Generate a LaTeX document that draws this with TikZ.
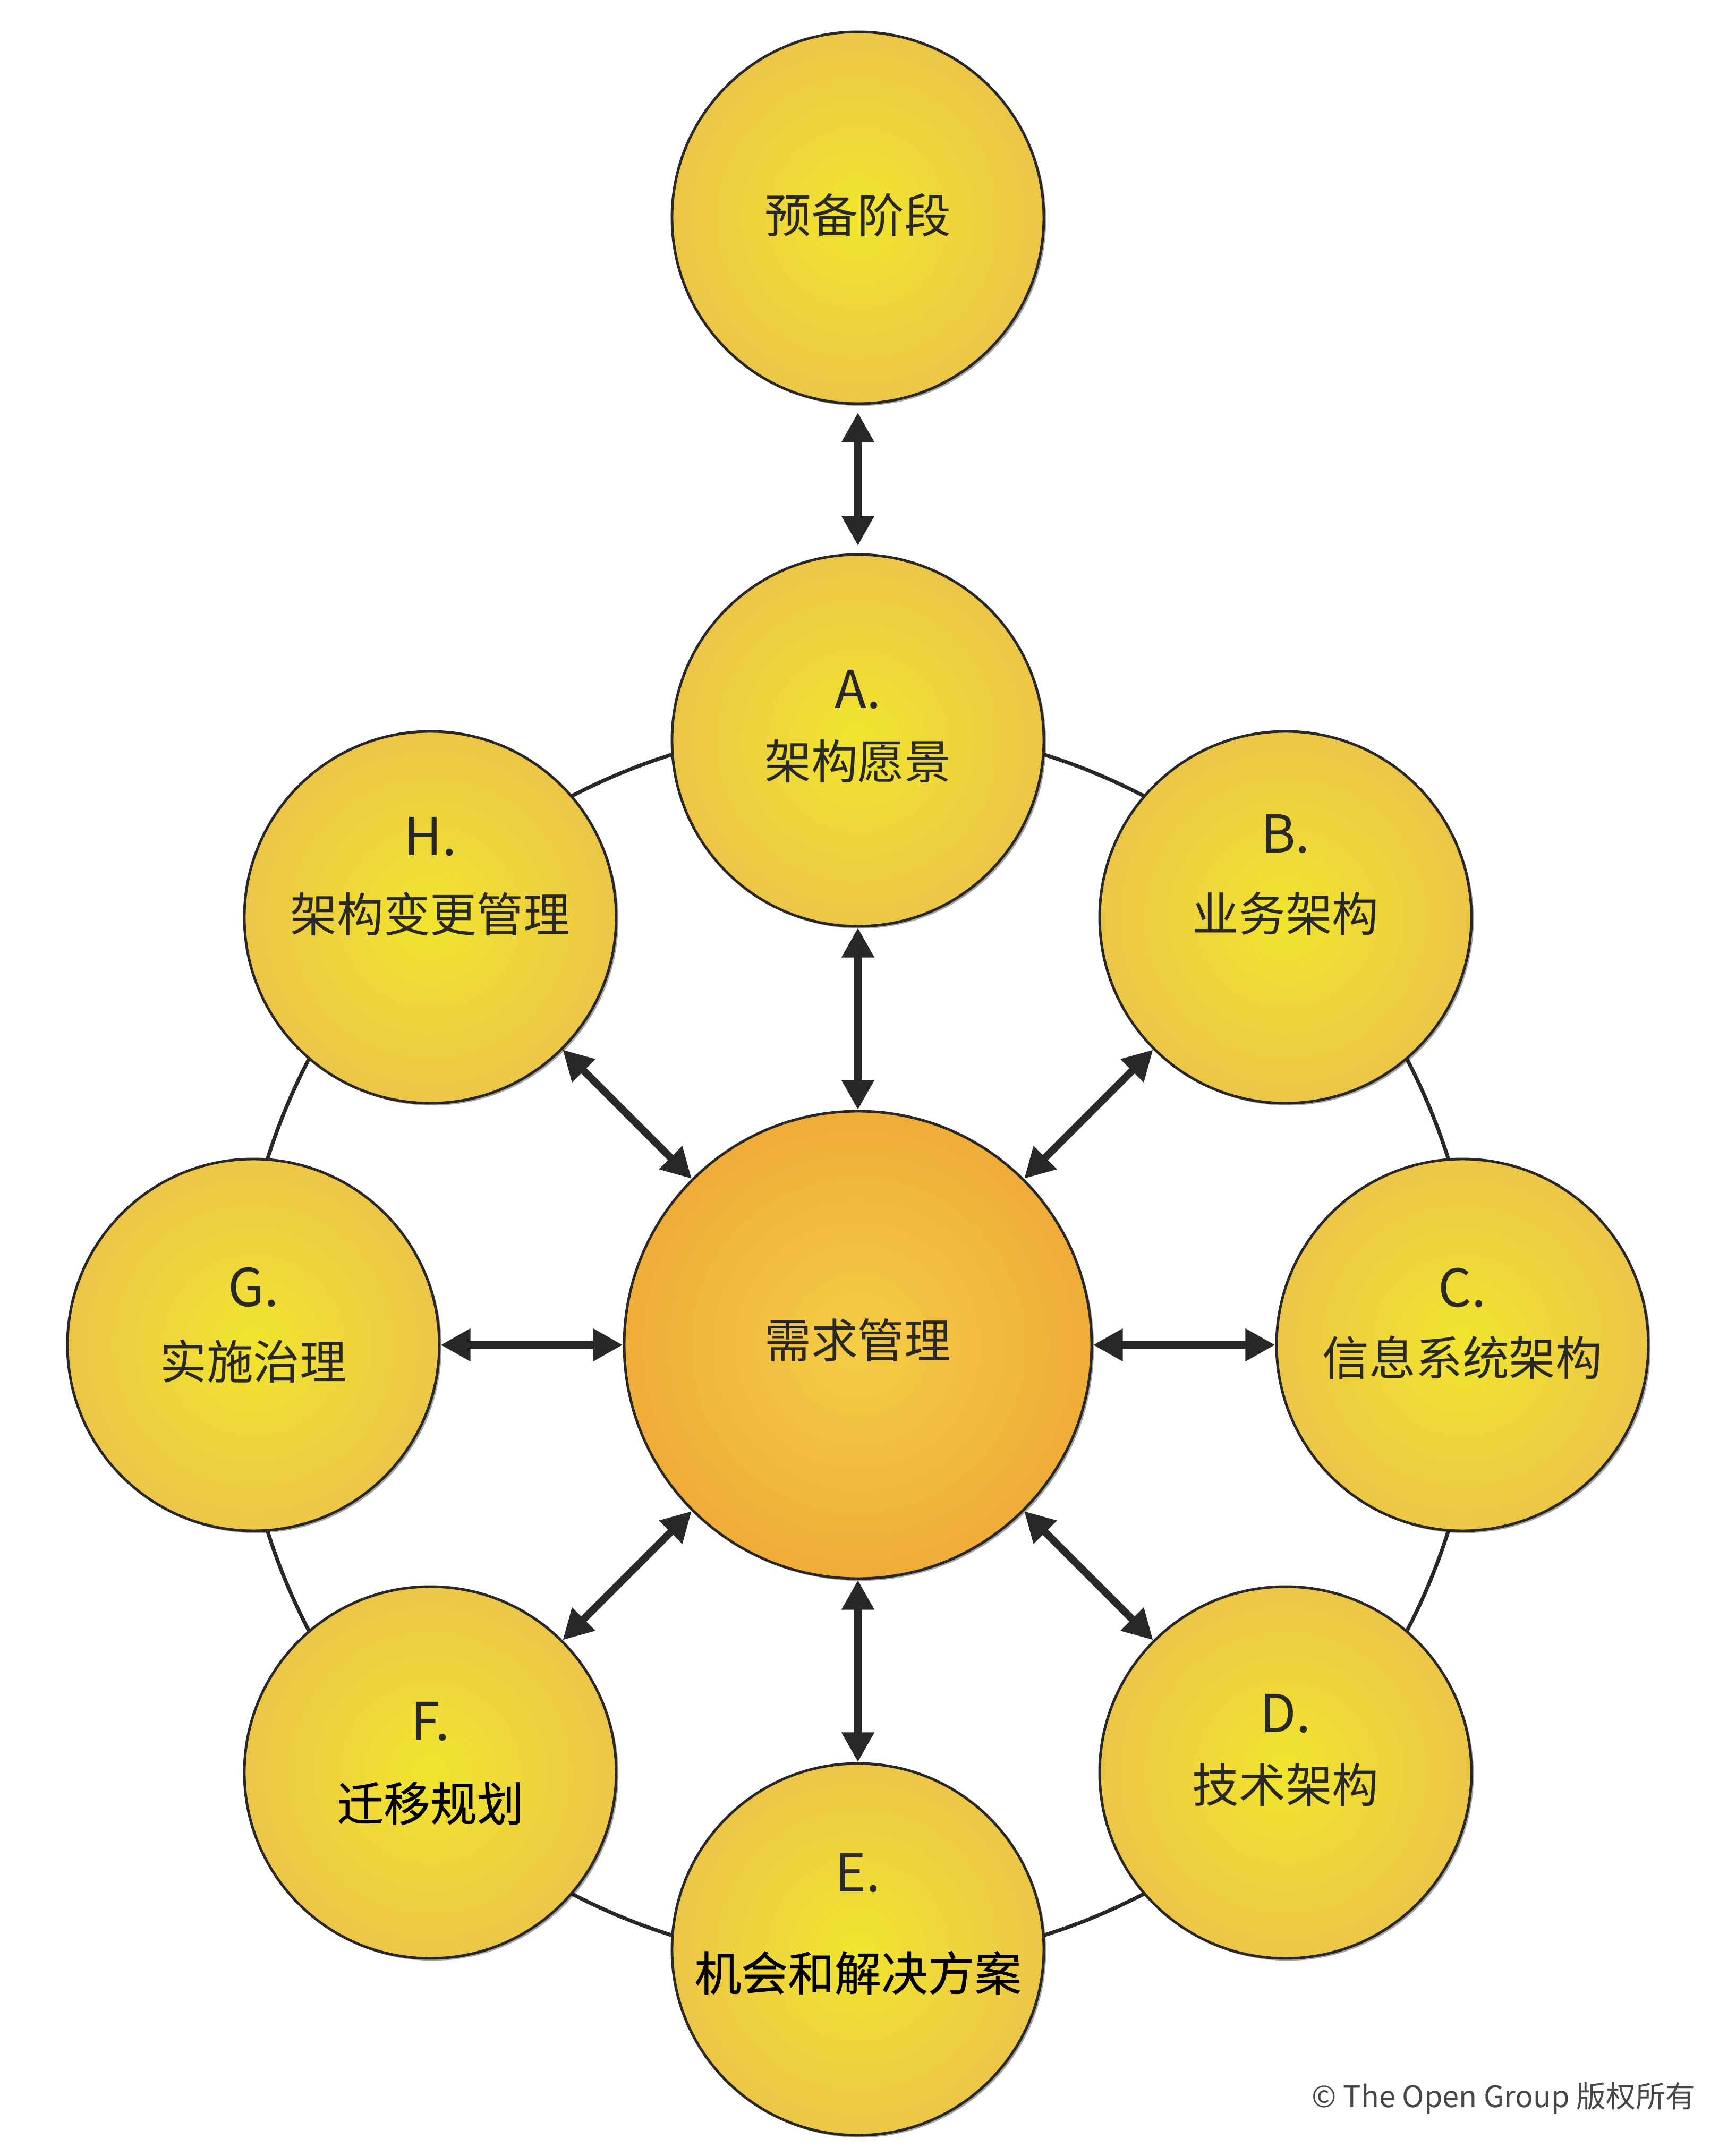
\documentclass[tikz,border=0pt]{standalone}
\usepackage{fontspec}
\setmainfont{Noto Sans CJK SC}
\newfontfamily\darkcjk[FakeBold=0.7]{Noto Sans CJK SC}
\usepackage{tikz}
\usetikzlibrary{arrows.meta}
\usetikzlibrary{shadows}

\definecolor{phasein}{RGB}{241,229,46}
\definecolor{phaseout}{RGB}{236,197,72}
\definecolor{corein}{RGB}{244,205,70}
\definecolor{coreout}{RGB}{239,172,57}
\definecolor{inkgray}{RGB}{40,40,38}

\newcommand{\phaseletter}{\fontsize{28}{35}\selectfont}

\begin{document}
\begin{tikzpicture}[
	phase/.style={circle,draw=inkgray,line width=1.4pt,minimum size=7cm,inner sep=0pt,
		shading=radial,inner color=phasein,outer color=phaseout,
		drop shadow={shadow xshift=1.2pt,shadow yshift=-1.2pt,opacity=0.35,fill=black}},
	core/.style={phase,minimum size=8.8cm,inner color=corein,outer color=coreout},
	phasetext/.style={align=center,inner sep=0pt,text=inkgray,font=\fontsize{25}{35}\selectfont},
	link/.style={{Triangle[length=16pt,width=16.5pt]}-{Triangle[length=16pt,width=16.5pt]},
		line width=4pt,draw=inkgray},
	ringline/.style={draw=inkgray,line width=2pt}
]
	\useasboundingbox[fill=white] (-16.15,25.32) rectangle (16.20,-15.27);

	% ring behind the phases
	\coordinate (mid) at (0,0);
	\draw[ringline] (mid) circle (11.65cm);

	% circles
	\node[core] (demand) at (mid) {};
	\node[phase,yshift=21.22cm] (prelim) at (mid) {};
	\node[phase,yshift=11.38cm] (A) at (mid) {};
	\node[phase,xshift=8.05cm,yshift=8.05cm] (B) at (mid) {};
	\node[phase,xshift=11.38cm] (C) at (mid) {};
	\node[phase,xshift=8.05cm,yshift=-8.05cm] (D) at (mid) {};
	\node[phase,yshift=-11.38cm] (E) at (mid) {};
	\node[phase,xshift=-8.05cm,yshift=-8.05cm] (F) at (mid) {};
	\node[phase,xshift=-11.38cm] (G) at (mid) {};
	\node[phase,xshift=-8.05cm,yshift=8.05cm] (H) at (mid) {};

	% texts
	\node[phasetext,yshift=0.05cm] (prelim text) at (prelim) {预备阶段};
	\node[phasetext,yshift=0.09cm] (demand text) at (demand) {需求管理};
	\node[phasetext,yshift=0.26cm] (A text) at (A) {{\phaseletter A.}\\[2.8pt]架构愿景};
	\node[phasetext,yshift=0.80cm] (B text) at (B) {{\phaseletter B.}\\[7pt]业务架构};
	\node[phasetext,yshift=0.40cm] (C text) at (C) {{\phaseletter C.}\\[1.6pt]信息系统架构};
	\node[phasetext,yshift=0.42cm] (D text) at (D) {{\phaseletter D.}\\[2.5pt]技术架构};
	\node[phasetext,yshift=0.48cm] (E text) at (E) {{\phaseletter E.}\\[18pt]{\darkcjk\color{black}机会和解决方案}};
	\node[phasetext,yshift=0.17cm] (F text) at (F) {{\phaseletter F.}\\[8.2pt]{\darkcjk\color{black}迁移规划}};
	\node[phasetext,yshift=0.37cm] (G text) at (G) {{\phaseletter G.}\\[3.9pt]实施治理};
	\node[phasetext,yshift=0.77cm] (H text) at (H) {{\phaseletter H.}\\[6.2pt]架构变更管理};

	% arrows
	\draw[link,shorten <=4pt,shorten >=4pt] (prelim) -- (A);
	\draw[link] (demand) -- (A);
	\draw[link] (demand) -- (B);
	\draw[link] (demand) -- (C);
	\draw[link] (demand) -- (D);
	\draw[link] (demand) -- (E);
	\draw[link] (demand) -- (F);
	\draw[link] (demand) -- (G);
	\draw[link] (demand) -- (H);

	\node[anchor=base west,inner sep=0pt,text=black!72,font=\fontsize{15.9}{18}\selectfont] (copyright) at (8.54,-14.35) {© The Open Group 版权所有};
\end{tikzpicture}
\end{document}
